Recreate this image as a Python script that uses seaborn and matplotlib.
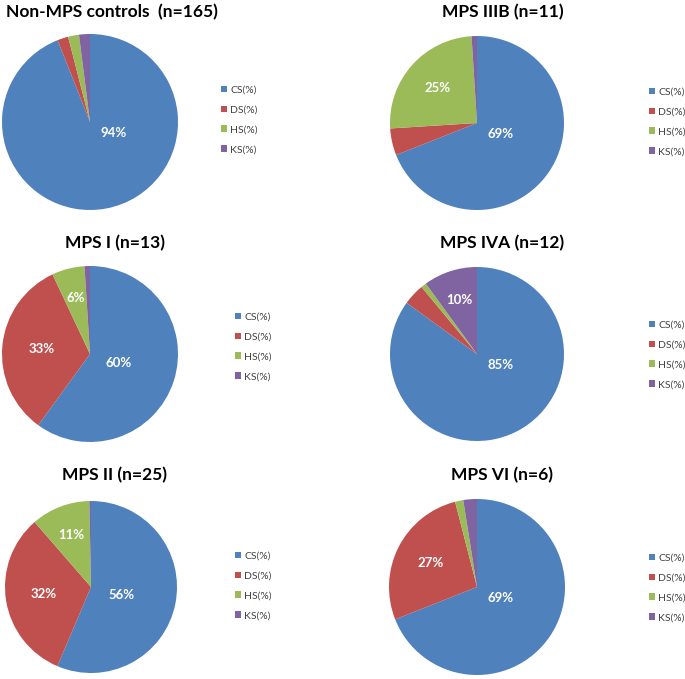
import numpy as np
import matplotlib
matplotlib.use("Agg")
import matplotlib.pyplot as plt
import seaborn as sns

# GAG composition per group (percent)
components = ["CS(%)", "DS(%)", "HS(%)", "KS(%)"]
titles = ["Non-MPS controls  (n=165)", "MPS IIIB (n=11)", "MPS I (n=13)",
          "MPS IVA (n=12)", "MPS II (n=25)", "MPS VI (n=6)"]
cs = [94, 69, 60, 85, 56, 69]
ds = [2, 5, 33, 4, 32, 27]
hs = [2, 25, 6, 1, 11, 1.5]
ks = [2, 1, 1, 10, 0.3, 2.5]

colors = ["#4F81BD", "#C0504D", "#9BBB59", "#8064A2"]

sns.set_theme(style="white")
plt.rcParams["font.family"] = ["Lato", "DejaVu Sans"]

W, H = 685, 679
fig = plt.figure(figsize=(W / 100, H / 100), dpi=100)

# layout in pixels: pie centre, radius, title centre, legend anchor
pie_pos = [(90, 122), (477, 123), (90, 354), (477, 354), (91, 587), (477, 587)]
radius = [88, 87, 88, 87, 86, 88]
title_pos = [(112, 12), (503, 12), (115, 243), (502, 243), (115, 475), (502, 475)]
legend_pos = [(221, 120), (649, 122), (235, 347), (649, 355), (235, 586), (649, 588)]

for i in range(6):
    vals = np.array([cs[i], ds[i], hs[i], ks[i]], dtype=float)
    cx, cy = pie_pos[i]
    r = radius[i]
    ax = fig.add_axes([(cx - r) / W, 1 - (cy + r) / H, 2 * r / W, 2 * r / H])
    wedges, _ = ax.pie(vals, colors=colors, startangle=90, counterclock=False,
                       radius=1, wedgeprops=dict(linewidth=0))
    ax.set_xlim(-1, 1)
    ax.set_ylim(-1, 1)
    fracs = vals / vals.sum()
    for w, f, v in zip(wedges, fracs, vals):
        if v < 6:
            continue
        mid = np.deg2rad((w.theta1 + w.theta2) / 2)
        half = np.pi * f
        d = 2 * np.sin(half) / (3 * half)
        d = min(max(d, 0.3), 0.75)
        if f > 0.5:
            # large slices: Excel keeps the label just right of the centre
            mid = np.clip(mid, np.deg2rad(-25), np.deg2rad(-15))
        ax.text(d * np.cos(mid), d * np.sin(mid), f"{v:.0f}%", color="white",
                fontsize=9.5, fontweight="bold", ha="center", va="center")
    tx, ty = title_pos[i]
    fig.text(tx / W, 1 - ty / H, titles[i], fontsize=12.5, fontweight="bold",
             ha="center", va="center", color="black")
    lx, ly = legend_pos[i]
    ax.legend(wedges, components, loc="center left",
              bbox_to_anchor=(lx / W, 1 - ly / H), bbox_transform=fig.transFigure,
              frameon=False, fontsize=7.5, handlelength=0.6, handleheight=0.6,
              handletextpad=0.3, labelspacing=1.05, borderpad=0, borderaxespad=0,
              labelcolor="#404040")

fig.savefig("out.png", dpi=100, facecolor="white")
